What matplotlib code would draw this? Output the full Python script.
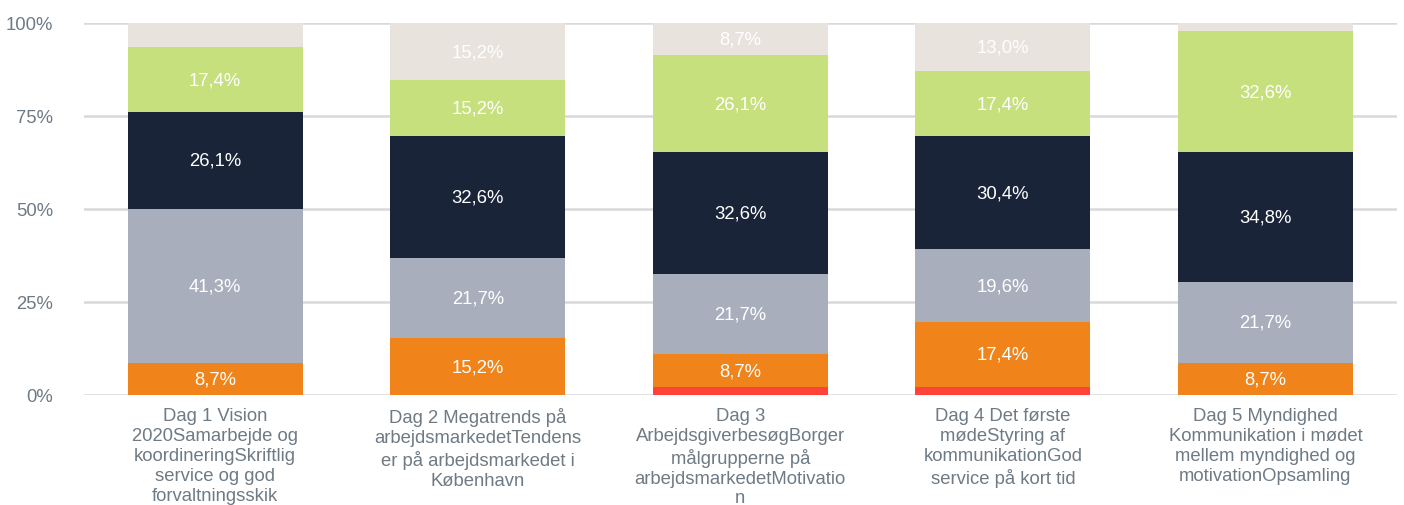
import numpy as np
import matplotlib.pyplot as plt

plt.rcParams['font.family'] = ['Liberation Sans', 'DejaVu Sans']

categories = [
    "Dag 1 Vision\n2020Samarbejde og\nkoordineringSkriftlig\nservice og god\nforvaltningsskik",
    "Dag 2 Megatrends på\narbejdsmarkedetTendens\ner på arbejdsmarkedet i\nKøbenhavn",
    "Dag 3\nArbejdsgiverbesøgBorger\nmålgrupperne på\narbejdsmarkedetMotivatio\nn",
    "Dag 4 Det første\nmødeStyring af\nkommunikationGod\nservice på kort tid",
    "Dag 5 Myndighed\nKommunikation i mødet\nmellem myndighed og\nmotivationOpsamling",
]
red = [0.0, 0.0, 2.2, 2.2, 0.0]
orange = [8.7, 15.2, 8.7, 17.4, 8.7]
grey = [41.3, 21.7, 21.7, 19.6, 21.7]
navy = [26.1, 32.6, 32.6, 30.4, 34.8]
green = [17.4, 15.2, 26.1, 17.4, 32.6]
beige = [6.5, 15.2, 8.7, 13.0, 2.2]

series = [red, orange, grey, navy, green, beige]
colors = ["#fe4338", "#f0841a", "#a8aebc", "#1a2439", "#c5e07c", "#e8e3dc"]

fig = plt.figure(figsize=(14.04, 5.06), dpi=100)
ax = fig.add_axes([0.0598, 0.2174, 0.935, 0.7352])

x = np.arange(len(categories))
bottom = np.zeros(len(categories))
for vals, c in zip(series, colors):
    vals = np.array(vals)
    ax.bar(x, vals, 0.667, bottom=bottom, color=c, zorder=2)
    for xi, b, v in zip(x, bottom, vals):
        if v >= 8:
            ax.text(xi, b + v / 2, f"{v:.1f}%".replace(".", ","), ha="center",
                    va="center", color="white", fontsize=13.3, zorder=3)
    bottom += vals

ax.set_xlim(-0.5, 4.5)
ax.set_ylim(0, 100)
ax.set_yticks([0, 25, 50, 75, 100])
ax.set_yticklabels(["0%", "25%", "50%", "75%", "100%"])
ax.set_xticks(x)
ax.set_xticklabels(categories, linespacing=1.22)
ax.grid(axis="y", color="#d9d9d9", linewidth=1.8, zorder=1)
ax.tick_params(length=0, labelsize=13.3, colors="#6e7a84", pad=9)
ax.tick_params(axis="y", pad=22)
for s in ax.spines.values():
    s.set_visible(False)
ax.set_axisbelow(True)

fig.savefig("out.png", dpi=100)
